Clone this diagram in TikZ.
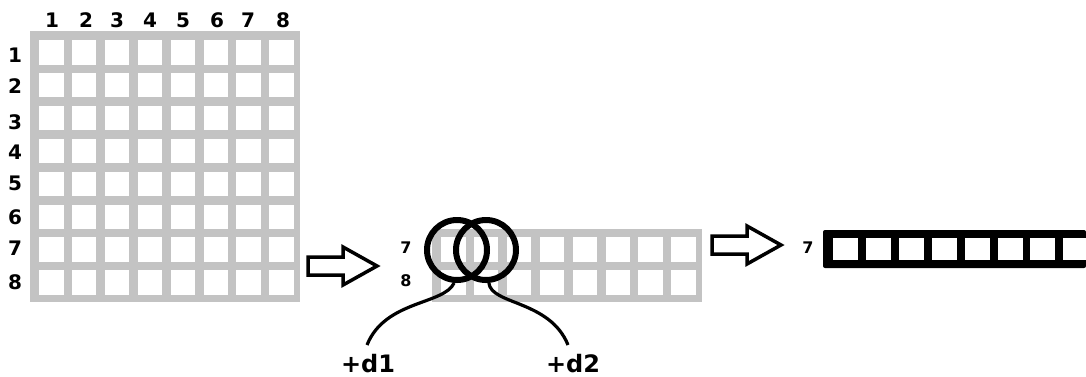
\documentclass[tikz,border=0pt]{standalone}
\usepackage{fontspec}
\setmainfont{DejaVu Sans}
\definecolor{gridgray}{RGB}{195,195,195}
\begin{document}
\begin{tikzpicture}[x=1pt,y=-1pt,
  lbl/.style={font=\bfseries\fontsize{20}{20}\selectfont, inner sep=0pt},
  slbl/.style={font=\bfseries\fontsize{16}{16}\selectfont, inner sep=0pt},
  dlbl/.style={font=\bfseries\fontsize{24}{24}\selectfont, inner sep=0pt, anchor=base},
  ring/.style={draw=black, line width=6pt, circle, minimum size=60pt, inner sep=0pt},
  curve/.style={draw=black, line width=3.2pt},
  blockarrow/.style={draw=black, line width=3.5pt, fill=white, line join=miter}
]
\useasboundingbox (0,0) rectangle (1086,376);
\fill[white] (0,0) rectangle (1086,376);
% big grid
\fill[gridgray] (30,31) rectangle (300,302);
\foreach \i in {0,...,7}{\foreach \j in {0,...,7}{
  \fill[white] ({39+\j*32.9},{40+\i*32.9}) rectangle +(24.5,24.5);}}
\foreach \n/\x in {1/52,2/86,3/117,4/150,5/183,6/217,7/248,8/283}
  \node[lbl] (col\n) at (\x,20) {\n};
\foreach \n/\y in {1/55,2/86,3/122,4/152,5/183,6/217,7/248,8/282}
  \node[lbl] (row\n) at (15,\y) {\n};
% arrow 1
\draw[blockarrow] (308,257)--(343,257)--(343,247)--(377,266)--(343,285)--(343,275)--(308,275)--cycle;
% middle strip
\fill[gridgray] (432,229) rectangle (702,302);
\foreach \i in {0,1}{\foreach \j in {0,...,7}{
  \fill[white] ({441+\j*32.9},{237.4+\i*32.9}) rectangle +(24.5,24.5);}}
\node[slbl] (m7) at (406,248) {7};
\node[slbl] (m8) at (406,281) {8};
\node[ring] (r1) at (457,250) {};
\node[ring] (r2) at (486,250) {};
\coordinate (e1) at (367,345);
\coordinate (e2) at (568,345);
\draw[curve] (r1.265) .. controls +(-10,22) and +(18,-45) .. (e1);
\draw[curve] (r2.275) .. controls +(2,22) and +(-18,-45) .. (e2);
\node[dlbl] (d1) at (368,372) {+d1};
\node[dlbl] (d2) at (573,372) {+d2};
% arrow 2
\draw[blockarrow] (712,236)--(747,236)--(747,226)--(781,245)--(747,264)--(747,254)--(712,254)--cycle;
% right strip
\fill[black, rounded corners=2pt] (823,230) rectangle (1086,268);
\foreach \j in {0,...,7}{
  \fill[white] ({833+\j*32.9},238) rectangle +(25,22);}
\node[slbl] (r7) at (808,248) {7};
\end{tikzpicture}
\end{document}
